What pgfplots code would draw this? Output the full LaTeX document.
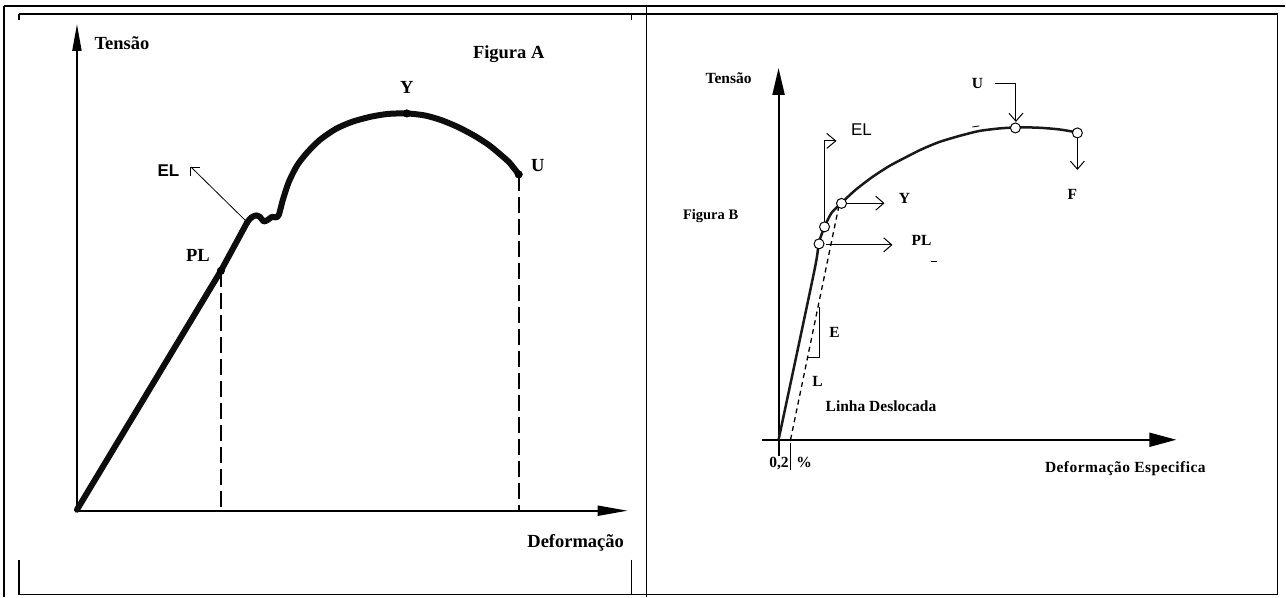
\documentclass[border=0pt]{standalone}
\usepackage{pgfplots}
\pgfplotsset{compat=1.18}
\usepackage{fontspec}
\setmainfont{Liberation Serif}
\newfontfamily\sansf{Liberation Sans}
\usetikzlibrary{arrows.meta}
\newcommand\la{\fontsize{18.5}{21}\selectfont\bfseries}
\newcommand\lb{\fontsize{15.5}{18}\selectfont\bfseries}
\begin{document}
\begin{tikzpicture}
\begin{axis}[scale only axis, width=1286pt, height=597pt,
  xmin=0, xmax=1286, ymin=0, ymax=597, y dir=reverse,
  hide axis, clip=false]
\path[fill=white] (axis cs:0,0) rectangle (axis cs:1286,597);
% frame
\draw[line width=1.5pt] (axis cs:4,6) -- (axis cs:1286,6);
\draw[line width=1.5pt] (axis cs:4,6) -- (axis cs:4,597);
\draw[line width=1.5pt] (axis cs:647,6) -- (axis cs:647,597);
\draw[line width=1.5pt] (axis cs:19,14) -- (axis cs:1278,14) -- (axis cs:1278,595) -- (axis cs:19,595);
\draw[line width=1.5pt] (axis cs:19,14) -- (axis cs:19,20);
\draw[line width=1.5pt] (axis cs:19,560) -- (axis cs:19,595);
\draw[line width=1.5pt] (axis cs:632,14) -- (axis cs:632,20);
\draw[line width=1.5pt] (axis cs:632,560) -- (axis cs:632,595);

% ===== Figure A =====
\draw[line width=2pt, -{Triangle[length=27pt,width=9pt]}] (axis cs:77,512) -- (axis cs:77,24);
\draw[line width=2pt, -{Triangle[length=30pt,width=10pt]}] (axis cs:75,511) -- (axis cs:628,511);
\addplot[line width=2pt, dash pattern=on 16pt off 6pt] coordinates {(221,271) (221,511)};
\addplot[line width=2pt, dash pattern=on 16pt off 6pt] coordinates {(519,175) (519,511)};
\addplot[line width=6pt, black!95, line cap=round, line join=round] coordinates {
(77,510) (221,271) (240,236) (247,223)};
\addplot[line width=6pt, black!95, smooth, tension=0.45, line cap=round, line join=round] coordinates {
(247,223) (251,218) (256,215.5) (260,217) (264,221.5) (268,220) (272,217) (276,217.5) (279,215)
(283,200) (289,182) (297,166) (307,153) (320,140) (336,129) (352,122) (370,117) (388,114) (407,113.5)
(425,115.5) (441,120) (458,127) (475,136) (489,145) (500,154) (510,163) (519,174.5)};
\addplot[only marks, mark=*, mark size=3.8pt, black] coordinates {(221,271) (407,113.5) (519,174.5)};
% EL pointer
\draw[line width=0.8pt] (axis cs:247,222) -- (axis cs:191,167);
\draw[line width=0.8pt] (axis cs:200,167) -- (axis cs:191,167) -- (axis cs:191,176);
\node[font=\la] at (axis cs:122,43) {Tensão};
\node[font=\la] at (axis cs:509,54) {Figura A};
\node[font=\la] at (axis cs:407,87) {Y};
\node[font=\la] at (axis cs:538,166) {U};
\node[font=\la] at (axis cs:198,256) {PL};
\node[font=\la] at (axis cs:576,543) {Deformação};
\node[font=\sansf\bfseries\fontsize{17}{20}\selectfont] at (axis cs:168.5,171) {EL};

% ===== Figure B =====
\draw[line width=2pt, -{Triangle[length=27pt,width=12pt]}] (axis cs:779,456) -- (axis cs:779,68);
\draw[line width=2pt, -{Triangle[length=27pt,width=14pt]}] (axis cs:762,440) -- (axis cs:1177,440);
\draw[line width=1.2pt] (axis cs:791,443) -- (axis cs:791,470);
\addplot[line width=1.3pt, dash pattern=on 5pt off 4pt] coordinates {(791,440) (840,203)};
\addplot[line width=2.5pt, black!90, smooth, tension=0.4] coordinates {
(779,440) (815,270) (819,244) (825,227) (832,213) (842,203) (856,190) (873,177) (890,166)
(907,157) (923,149) (940,142) (960,136) (980,131) (1000,128.5) (1016,127.5) (1030,127.5)
(1043,128) (1060,129.5) (1078,132.5)};
% annotations
\draw[line width=1pt, -{Straight Barb[length=9pt,width=15pt]}] (axis cs:825,222) -- (axis cs:825,141) -- (axis cs:837,141);
\draw[line width=1pt, -{Straight Barb[length=8pt,width=14pt]}] (axis cs:847,203.3) -- (axis cs:885,203.3);
\draw[line width=1pt, -{Straight Barb[length=8pt,width=14pt]}] (axis cs:826,245) -- (axis cs:893,245);
\draw[line width=1pt, -{Straight Barb[length=8pt,width=14pt]}] (axis cs:996,84) -- (axis cs:1016.5,84) -- (axis cs:1016.5,122);
\draw[line width=1pt, -{Straight Barb[length=8pt,width=14pt]}] (axis cs:1078,138) -- (axis cs:1078,170);
\draw[line width=1.2pt] (axis cs:820,307) -- (axis cs:820,358) -- (axis cs:808,358);
\draw[line width=0.8pt] (axis cs:973,127) -- (axis cs:980,126);
\draw[line width=0.8pt] (axis cs:932,262) -- (axis cs:938,262);
\addplot[only marks, mark=*, mark size=5pt, mark options={fill=white, draw=black, line width=1pt}] coordinates {
(819.5,244) (825,227) (842,203.5) (1016,128) (1078,133)};
\node[font=\lb] at (axis cs:729,78) {Tensão};
\node[font=\bfseries\fontsize{14.5}{17}\selectfont] at (axis cs:711,216) {Figura B};
\node[font=\sansf\fontsize{17}{20}\selectfont] at (axis cs:862,130) {EL};
\node[font=\lb] at (axis cs:905,199) {Y};
\node[font=\lb] at (axis cs:922,241) {PL};
\node[font=\lb] at (axis cs:835,333) {E};
\node[font=\lb] at (axis cs:818,382) {L};
\node[font=\lb, anchor=west, inner sep=0pt] at (axis cs:826,406) {Linha Deslocada};
\node[font=\lb] at (axis cs:978,84) {U};
\node[font=\lb] at (axis cs:1073,195) {F};
\node[font=\lb\addfontfeature{LetterSpace=3}] at (axis cs:1126,469) {Deformação Especifica};
\node[font=\lb, anchor=west, inner sep=0pt] at (axis cs:769.5,464) {0,2\hspace{0.5em}\%};
\end{axis}
\end{tikzpicture}
\end{document}
